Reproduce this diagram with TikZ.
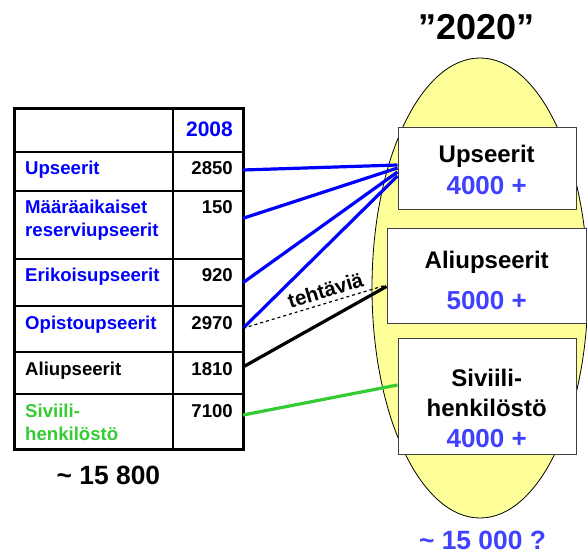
\documentclass[tikz,border=0pt]{standalone}
\usepackage{fontspec}
\setmainfont{Liberation Sans}
\usetikzlibrary{calc}

\definecolor{tblue}{RGB}{0,0,255}
\definecolor{nblue}{RGB}{64,64,255}
\definecolor{cgreen}{RGB}{51,204,51}
\definecolor{oval}{RGB}{255,255,153}
\definecolor{boxline}{RGB}{64,64,64}

\begin{document}
\begin{tikzpicture}[x=1pt,y=-1pt,
  celltxt/.style={inner sep=0pt, font=\fontsize{18.6pt}{22pt}\selectfont\bfseries},
  lbl/.style={celltxt, anchor=base west},
  num/.style={celltxt, anchor=base east},
  boxtxt/.style={inner sep=0pt, anchor=base, font=\fontsize{24pt}{28pt}\selectfont\bfseries},
  boxnum/.style={inner sep=0pt, anchor=base, text=nblue, font=\fontsize{26pt}{30pt}\selectfont\bfseries},
  bigtxt/.style={inner sep=0pt, anchor=base, font=\fontsize{26.4pt}{30pt}\selectfont\bfseries},
  tbox/.style={draw=boxline, line width=1pt, fill=white, inner sep=0pt},
  outer/.style={line width=3pt},
  inner/.style={line width=1.3pt},
  conn/.style={line width=3.2pt},
]
\useasboundingbox (0,0) rectangle (587,551);

% the 2020 oval
\draw[fill=oval, line width=0.8pt] (480,288) ellipse [x radius=108, y radius=230];
\node[inner sep=0pt, anchor=base, font=\fontsize{36pt}{40pt}\selectfont\bfseries] (title) at (476.5,39.3) {”2020”};

% 2008 table grid
\draw[inner] (173,109) -- (173,449);
\foreach \y in {152,191,259,306,352,394} \draw[inner] (14,\y) -- (243,\y);
\draw[outer] (14,109) rectangle (243,449);

% table texts
\node[num, text=tblue, font=\fontsize{21pt}{24pt}\selectfont\bfseries] (h2008) at (233,136) {2008};
\node[lbl, text=tblue] (l1) at (25,175) {Upseerit};
\node[num] (n1) at (233,175) {2850};
\node[lbl, text=tblue] (l2a) at (25,213) {Määräaikaiset};
\node[lbl, text=tblue] (l2b) at (25,236.7) {reserviupseerit};
\node[num] (n2) at (233,213) {150};
\node[lbl, text=tblue] (l3) at (25,281.7) {Erikoisupseerit};
\node[num] (n3) at (233,281.7) {920};
\node[lbl, text=tblue] (l4) at (25,329) {Opistoupseerit};
\node[num] (n4) at (233,329) {2970};
\node[lbl] (l5) at (25,375) {Aliupseerit};
\node[num] (n5) at (233,375) {1810};
\node[lbl, text=cgreen] (l6a) at (25,417.7) {Siviili-};
\node[lbl, text=cgreen] (l6b) at (25,440) {henkilöstö};
\node[num] (n6) at (233,417.7) {7100};
\node[bigtxt] (tot08) at (108.4,484.3) {\char"007E{} 15 800};

% connector start points on the table edge
\coordinate (t1) at (243,170);
\coordinate (t2) at (243,218.3);
\coordinate (t3) at (243,282.7);
\coordinate (t4) at (243,328.3);
\coordinate (t5) at (243,367);
\coordinate (t6) at (243,415);

% 2020 boxes
\node[tbox, minimum width=178pt, minimum height=81pt] (up) at (487,168.5) {};
\node[tbox, minimum width=199pt, minimum height=95pt] (al) at (486.5,275.5) {};
\node[tbox, minimum width=178pt, minimum height=116pt] (sv) at (487,396) {};

\node[boxtxt] (upT) at (486.7,162.7) {Upseerit};
\node[boxnum] (upN) at (486.7,194.3) {4000 +};
\node[boxtxt] (alT) at (486.7,268.3) {Aliupseerit};
\node[boxnum] (alN) at (486.7,309.3) {5000 +};
\node[boxtxt] (svT1) at (486.7,386.7) {Siviili-};
\node[boxtxt] (svT2) at (486.7,416.7) {henkilöstö};
\node[boxnum] (svN) at (486.7,447.3) {4000 +};

\node[bigtxt, text=nblue] (tot20) at (482.5,549) {\char"007E{} 15 000 ?};

% connectors
\draw[conn, tblue] (t1) -- ($(up.west)+(0,-3.5)$);
\draw[conn, tblue] (t2) -- ($(up.west)+(0,-0.5)$);
\draw[conn, tblue] (t3) -- ($(up.west)+(0,3.5)$);
\draw[conn, tblue] (t4) -- ($(up.west)+(0,7.5)$);
\draw[line width=1.2pt, dashed] (t4) -- ($(al.west)+(0,9.5)$)
  node[pos=0.6, sloped, above=4.5pt, inner sep=0pt, font=\fontsize{20.5pt}{24pt}\selectfont\bfseries] (task) {tehtäviä};
\draw[conn, black] (t5) -- ($(al.west)+(0,11)$);
\draw[conn, cgreen] (t6) -- ($(sv.west)+(0,-11)$);
\end{tikzpicture}
\end{document}
